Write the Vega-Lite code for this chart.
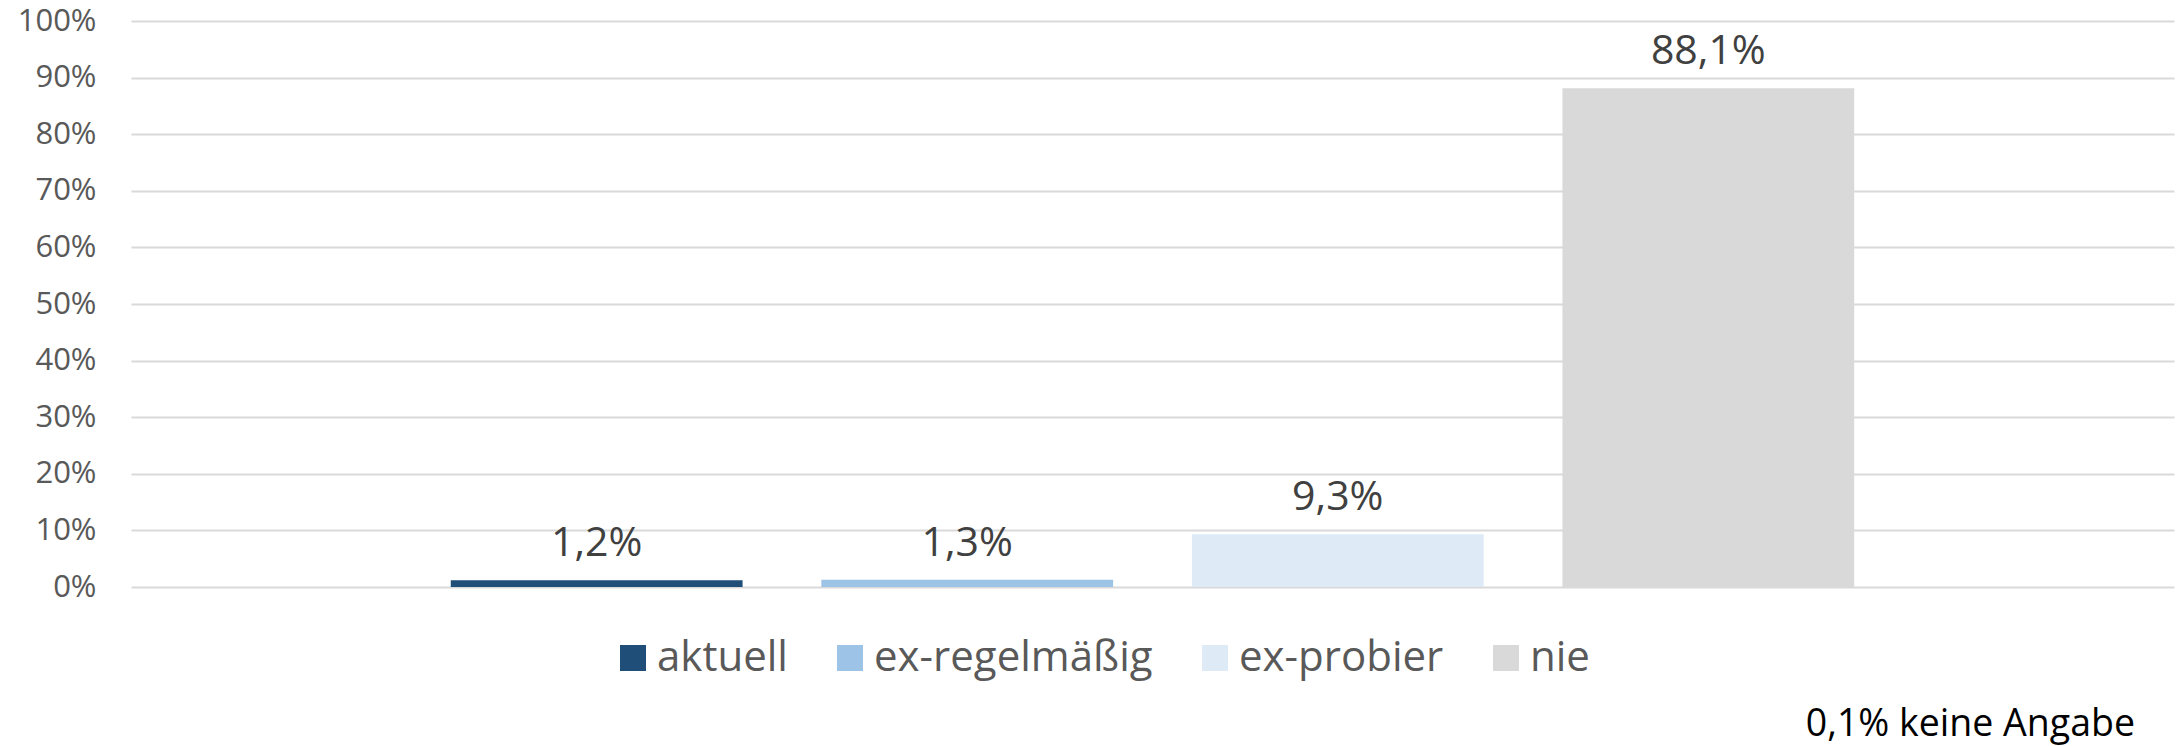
{
  "$schema": "https://vega.github.io/schema/vega-lite/v6.json",
  "width": 2043,
  "height": 566,
  "autosize": {"type": "none"},
  "padding": {"left": 131, "top": 21, "right": 7, "bottom": 159},
  "background": "white",
  "config": {
    "view": {"stroke": null},
    "font": "Open Sans",
    "locale": {"number": {"decimal": ",", "thousands": ".", "grouping": [3], "currency": ["", " €"]}}
  },
  "title": {
    "text": "0,1% keine Angabe",
    "orient": "bottom",
    "anchor": "end",
    "frame": "group",
    "fontSize": 37.5,
    "fontWeight": "normal",
    "font": "Open Sans",
    "color": "#000000",
    "baseline": "alphabetic",
    "dx": -39,
    "offset": 57
  },
  "data": {
    "values": [
      {"kategorie": "aktuell", "anteil": 0.012},
      {"kategorie": "ex-regelmäßig", "anteil": 0.013},
      {"kategorie": "ex-probier", "anteil": 0.093},
      {"kategorie": "nie", "anteil": 0.881}
    ]
  },
  "encoding": {
    "x": {
      "field": "kategorie",
      "type": "nominal",
      "sort": null,
      "axis": null,
      "scale": {"paddingInner": 0.2125, "paddingOuter": 0.863}
    },
    "y": {
      "field": "anteil",
      "type": "quantitative",
      "scale": {"domain": [0, 1], "nice": false},
      "axis": {
        "title": null,
        "values": [0, 0.1, 0.2, 0.3, 0.4, 0.5, 0.6, 0.7, 0.8, 0.9, 1],
        "format": ".0%",
        "domain": false,
        "ticks": false,
        "grid": true,
        "gridColor": "#D9D9D9",
        "gridWidth": 2,
        "labelPadding": 35,
        "labelFontSize": 31,
        "labelColor": "#595959",
        "labelFont": "Open Sans"
      }
    }
  },
  "layer": [
    {
      "mark": {"type": "bar"},
      "encoding": {
        "color": {
          "field": "kategorie",
          "type": "nominal",
          "sort": null,
          "scale": {
            "domain": ["aktuell", "ex-regelmäßig", "ex-probier", "nie"],
            "range": ["#1F4E79", "#9DC3E6", "#DEEBF7", "#D9D9D9"]
          },
          "legend": {
            "title": null,
            "orient": "none",
            "direction": "horizontal",
            "columns": 4,
            "legendX": 481,
            "legendY": 616,
            "padding": 0,
            "symbolType": "square",
            "symbolSize": 676,
            "symbolStrokeWidth": 0,
            "labelFontSize": 42,
            "labelFont": "Open Sans",
            "labelColor": "#595959",
            "labelOffset": 3,
            "columnPadding": 41,
            "labelLimit": 0
          }
        }
      }
    },
    {
      "mark": {"type": "text", "baseline": "alphabetic", "dy": -24, "fontSize": 41, "color": "#404040", "font": "Open Sans"},
      "encoding": {
        "text": {"field": "anteil", "type": "quantitative", "format": ".1%"}
      }
    }
  ]
}
